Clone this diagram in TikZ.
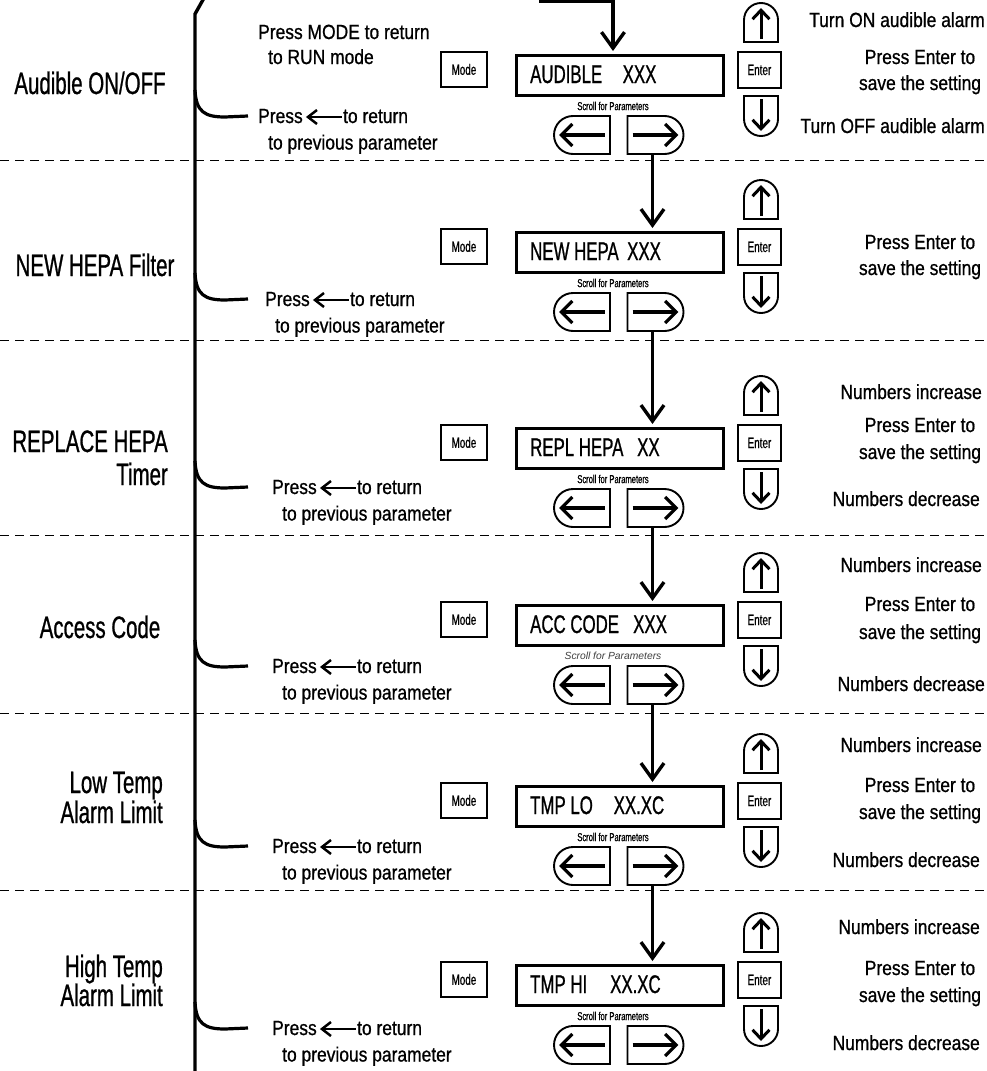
\documentclass[tikz,border=0pt]{standalone}
\usepackage{fontspec}
\setmainfont{Liberation Sans}
\newfontfamily\bigf{Liberation Sans}[FakeStretch=0.66,FakeBold=0.8]
\newfontfamily\smf{Liberation Sans}[FakeStretch=0.85,FakeBold=0.8]
\newfontfamily\plainf{Liberation Sans}
\usetikzlibrary{arrows.meta,shapes.misc}

\tikzset{
 lbl/.style={inner sep=0pt, font=\bigf\fontsize{31}{34}\selectfont},
 txt/.style={inner sep=0pt, font=\smf\fontsize{20.5}{24}\selectfont},
 disptxt/.style={inner sep=0pt, font=\bigf\fontsize{25.5}{28}\selectfont},
 keybox/.style={draw, line width=1.9pt, inner sep=0pt, font=\bigf\fontsize{15}{17}\selectfont},
 dispbox/.style={draw, line width=3.4pt, inner sep=0pt, minimum width=207pt, minimum height=40pt},
 btn/.style={draw, line width=1.9pt},
 sidebtn/.style={draw, line width=1.9pt, rounded rectangle, inner sep=0pt, minimum width=56pt, minimum height=38pt},
 scrolltxt/.style={inner sep=0pt, font=\bigf\fontsize{11.5}{13}\selectfont},
 inarrow/.style={line width=3pt, -{Straight Barb[length=9pt,width=17pt]}},
 harrow/.style={line width=3.2pt, -{Straight Barb[length=11pt,width=22pt]}},
 conn/.style={line width=3.4pt, -{Straight Barb[length=16pt,width=23pt]}, shorten >=3pt},
 pa/.style={line width=2.5pt, -{Straight Barb[length=9pt,width=14pt]}},
 brace/.style={line width=3.4pt},
 sep/.style={line width=1pt, dash pattern=on 9pt off 6pt},
}

\newcommand\panel[6]{%
 \node[keybox, minimum width=46pt, minimum height=35pt, anchor=north west] (m#1) at (440,{#2+48}) {Mode};
 \node[dispbox, anchor=north west] (d#1) at (515,{#2+51}) {};
 \node[disptxt, anchor=base west] (dl#1) at (530,{#2+80}) {#3};
 \node[disptxt, anchor=base west] (dv#1) at (#5,{#2+80}) {#4};
 \node[keybox, minimum width=43pt, minimum height=36pt, anchor=north west] (e#1) at (737,{#2+48}) {Enter};
 \draw[btn] (744,{#2+39}) -- (744,{#2+17}) arc[start angle=180,end angle=0,radius=17pt] -- (778,{#2+39}) -- cycle;
 \draw[inarrow] (761,{#2+36}) -- (761,{#2+5});
 \draw[btn] (744,{#2+93}) -- (744,{#2+116}) arc[start angle=180,end angle=360,radius=17pt] -- (778,{#2+93}) -- cycle;
 \draw[inarrow] (761,{#2+96}) -- (761,{#2+128});
 \node[scrolltxt] (s#1) at (613,{#2+103}) {#6};
 \node[sidebtn, rounded rectangle right arc=none] (l#1) at (582,{#2+132}) {};
 \node[sidebtn, rounded rectangle left arc=none] (r#1) at (655.5,{#2+132}) {};
 \draw[harrow] ([xshift=-6pt]l#1.east) -- ([xshift=6pt]l#1.west);
 \draw[harrow] ([xshift=6pt]r#1.west) -- ([xshift=-6pt]r#1.east);
}

\newcommand\backnote[3]{% #1 id, #2 x, #3 yc
 \node[txt, anchor=base west] (p#1) at (#2,{#3+7}) {Press};
 \node[txt, anchor=base west] (t#1) at ([xshift=40pt]p#1.base east) {to return};
 \draw[pa] ([xshift=-1pt,yshift=6pt]t#1.base west) -- ([xshift=3pt,yshift=6pt]p#1.base east);
 \node[txt, anchor=base west] (q#1) at ({#2+10},{#3+33.5}) {to previous parameter};
 \draw[brace, line width=3.2pt] (195,{#3-26}) .. controls (196,{#3-4}) and (205,{#3+1}) .. (225,{#3+1}) -- (248,{#3});
}

\begin{document}
\begin{tikzpicture}[x=1pt,y=-1pt]
\useasboundingbox (0,0) rectangle (987,1071);
\fill[white] (0,0) rectangle (987,1071);

% separators
\foreach \yy in {160,340,535,713,890} \draw[sep] (0,\yy) -- (987,\yy);

% main bracket line
\coordinate (vt) at (204,-2);
\coordinate (vb) at (195,14);
\coordinate (ve) at (195,1075);
\draw[brace, line join=round] (vt) -- (vb) -- (ve);

% left labels
\node[lbl, anchor=base] (L1) at (90,94) {Audible ON/OFF};
\node[lbl, anchor=base] (L2) at (95,276) {NEW HEPA Filter};
\node[lbl, anchor=base east] (L3a) at (168,452) {REPLACE HEPA};
\node[lbl, anchor=base east] (L3b) at (168,485) {Timer};
\node[lbl, anchor=base] (L4) at (100,638) {Access Code};
\node[lbl, anchor=base east] (L5a) at (163,793) {Low Temp};
\node[lbl, anchor=base east] (L5b) at (163,823) {Alarm Limit};
\node[lbl, anchor=base east] (L6a) at (163,977) {High Temp};
\node[lbl, anchor=base east] (L6b) at (163,1006) {Alarm Limit};

% panels
\panel{1}{3}{AUDIBLE}{XXX}{622.5}{Scroll for Parameters}
\panel{2}{180}{NEW HEPA}{XXX}{627}{Scroll for Parameters}
\panel{3}{376}{REPL HEPA}{XX}{637}{Scroll for Parameters}
\panel{4}{553}{ACC CODE}{XXX}{633}{{\plainf\itshape\fontsize{10.3}{12}\selectfont\color{black!75}Scroll for Parameters}}
\panel{5}{734}{TMP LO}{XX.XC}{613.5}{Scroll for Parameters}
\panel{6}{913}{TMP HI}{XX.XC}{610}{Scroll for Parameters}

% connectors
\coordinate (a0s) at (539,1.7);
\coordinate (a0) at (613,1.7);
\draw[conn] (a0s) -- (a0) -- (a0 |- d1.north);
\foreach \i/\j in {1/2,2/3,3/4,4/5,5/6}{
  \coordinate (c\i) at ([xshift=-3pt]r\i.south);
  \draw[conn] (c\i) -- (c\i |- d\j.north);
}

% section 1 notes
\node[txt, anchor=base west] (pm1) at (258,39) {Press MODE to return};
\node[txt, anchor=base west] (pm2) at (268,64) {to RUN mode};
\backnote{1}{258}{116}
\backnote{2}{265}{299}
\backnote{3}{272}{487}
\backnote{4}{272}{666}
\backnote{5}{272}{846}
\backnote{6}{272}{1028}

% right texts
\node[txt, anchor=base east] (r1a) at (985,27) {Turn ON audible alarm};
\node[txt, anchor=base] (r1b) at (920,64) {Press Enter to};
\node[txt, anchor=base] (r1c) at (920,90) {save the setting};
\node[txt, anchor=base east] (r1d) at (985,133) {Turn OFF audible alarm};

\node[txt, anchor=base] (r2b) at (920,249) {Press Enter to};
\node[txt, anchor=base] (r2c) at (920,275) {save the setting};

\node[txt, anchor=base east] (r3a) at (982,399) {Numbers increase};
\node[txt, anchor=base] (r3b) at (920,432) {Press Enter to};
\node[txt, anchor=base] (r3c) at (920,459) {save the setting};
\node[txt, anchor=base east] (r3d) at (980,506) {Numbers decrease};

\node[txt, anchor=base east] (r4a) at (982,572) {Numbers increase};
\node[txt, anchor=base] (r4b) at (920,611) {Press Enter to};
\node[txt, anchor=base] (r4c) at (920,639) {save the setting};
\node[txt, anchor=base east] (r4d) at (985,691) {Numbers decrease};

\node[txt, anchor=base east] (r5a) at (982,752) {Numbers increase};
\node[txt, anchor=base] (r5b) at (920,792) {Press Enter to};
\node[txt, anchor=base] (r5c) at (920,819) {save the setting};
\node[txt, anchor=base east] (r5d) at (980,867) {Numbers decrease};

\node[txt, anchor=base east] (r6a) at (980,934) {Numbers increase};
\node[txt, anchor=base] (r6b) at (920,975) {Press Enter to};
\node[txt, anchor=base] (r6c) at (920,1002) {save the setting};
\node[txt, anchor=base east] (r6d) at (980,1050) {Numbers decrease};
\end{tikzpicture}
\end{document}
